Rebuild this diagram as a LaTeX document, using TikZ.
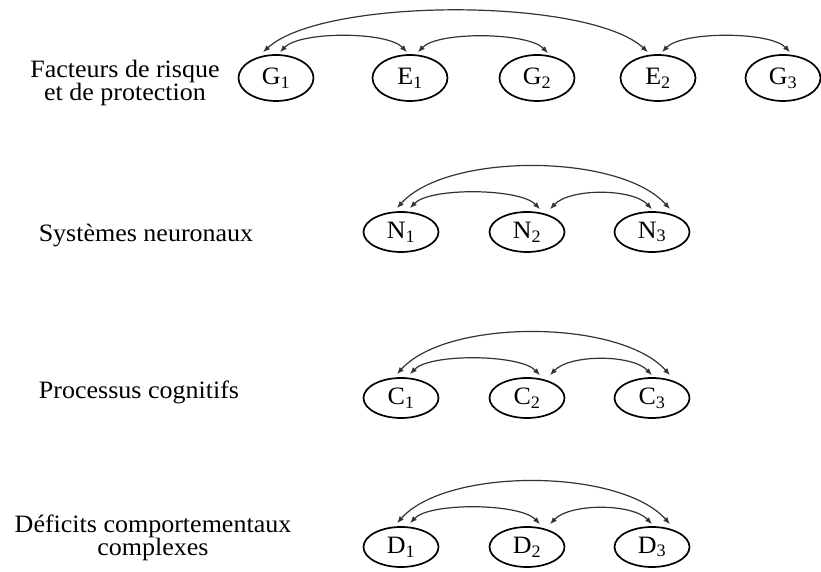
\documentclass[tikz,border=0pt]{standalone}
\usepackage{fontspec}
\setmainfont{Liberation Serif}[FakeStretch=1.04]
\usetikzlibrary{shapes.geometric,arrows.meta,calc}
\begin{document}
\begin{tikzpicture}[x=1pt,y=1pt,
  every node/.style={font=\fontsize{25}{21}\selectfont},
  var/.style={ellipse,draw=black,line width=1.7pt,inner sep=0pt,minimum width=75pt,minimum height=40pt},
  vartop/.style={var,minimum height=46pt},
  lab/.style={align=center},
  link/.style={draw=black!80,line width=1.2pt,{Latex[length=7pt,width=5.5pt]}-{Latex[length=7pt,width=5.5pt]}}]
\useasboundingbox (0,0) rectangle (821,572);
% labels
\node[lab] (L1) at (125,489) {Facteurs de risque\\et de protection};
\node[lab] (L2) at (146,336) {Systèmes neuronaux};
\node[lab] (L3) at (139,180) {Processus cognitifs};
\node[lab] (L4) at (153,34) {Déficits comportementaux\\complexes};
% top row
\node[vartop] (G1) at (276,494) {G\textsubscript{1}};
\node[vartop] (E1) at (410,494) {E\textsubscript{1}};
\node[vartop] (G2) at (537,494) {G\textsubscript{2}};
\node[vartop] (E2) at (658,494) {E\textsubscript{2}};
\node[vartop] (G3) at (783,494) {G\textsubscript{3}};
\draw[link] ($(G1.north)+(-13,2)$) .. controls +(60,55) and +(-60,55) .. ($(E2.north)+(-10,2)$);
\draw[link] ($(G1.north)+(4,2)$) .. controls +(20,21) and +(-20,21) .. ($(E1.north)+(-3,2)$);
\draw[link] ($(E1.north)+(8,2)$) .. controls +(20,21) and +(-20,21) .. ($(G2.north)+(11,1)$);
\draw[link] ($(E2.north)+(4,2)$) .. controls +(20,21) and +(-20,21) .. ($(G3.north)+(7,2)$);
% N row
\node[var] (N1) at (401,340) {N\textsubscript{1}};
\node[var] (N2) at (527,340) {N\textsubscript{2}};
\node[var] (N3) at (652,340) {N\textsubscript{3}};
\draw[link] ($(N1.north)+(-4,3)$) .. controls +(50,56) and +(-50,56) .. ($(N3.north)+(18,2)$);
\draw[link] ($(N1.north)+(9,3)$) .. controls +(20,21) and +(-20,21) .. ($(N2.north)+(13,2)$);
\draw[link] ($(N2.north)+(23,2)$) .. controls +(20,21) and +(-20,21) .. ($(N3.north)+(0,2)$);
% C row
\node[var] (C1) at (401,174) {C\textsubscript{1}};
\node[var] (C2) at (527,174) {C\textsubscript{2}};
\node[var] (C3) at (652,174) {C\textsubscript{3}};
\draw[link] ($(C1.north)+(-4,3)$) .. controls +(50,56) and +(-50,56) .. ($(C3.north)+(18,2)$);
\draw[link] ($(C1.north)+(9,3)$) .. controls +(20,21) and +(-20,21) .. ($(C2.north)+(13,2)$);
\draw[link] ($(C2.north)+(23,2)$) .. controls +(20,21) and +(-20,21) .. ($(C3.north)+(0,2)$);
% D row
\node[var] (D1) at (401,25) {D\textsubscript{1}};
\node[var] (D2) at (527,25) {D\textsubscript{2}};
\node[var] (D3) at (652,25) {D\textsubscript{3}};
\draw[link] ($(D1.north)+(-4,3)$) .. controls +(50,56) and +(-50,56) .. ($(D3.north)+(18,2)$);
\draw[link] ($(D1.north)+(9,3)$) .. controls +(20,21) and +(-20,21) .. ($(D2.north)+(13,2)$);
\draw[link] ($(D2.north)+(23,2)$) .. controls +(20,21) and +(-20,21) .. ($(D3.north)+(0,2)$);
\end{tikzpicture}
\end{document}
